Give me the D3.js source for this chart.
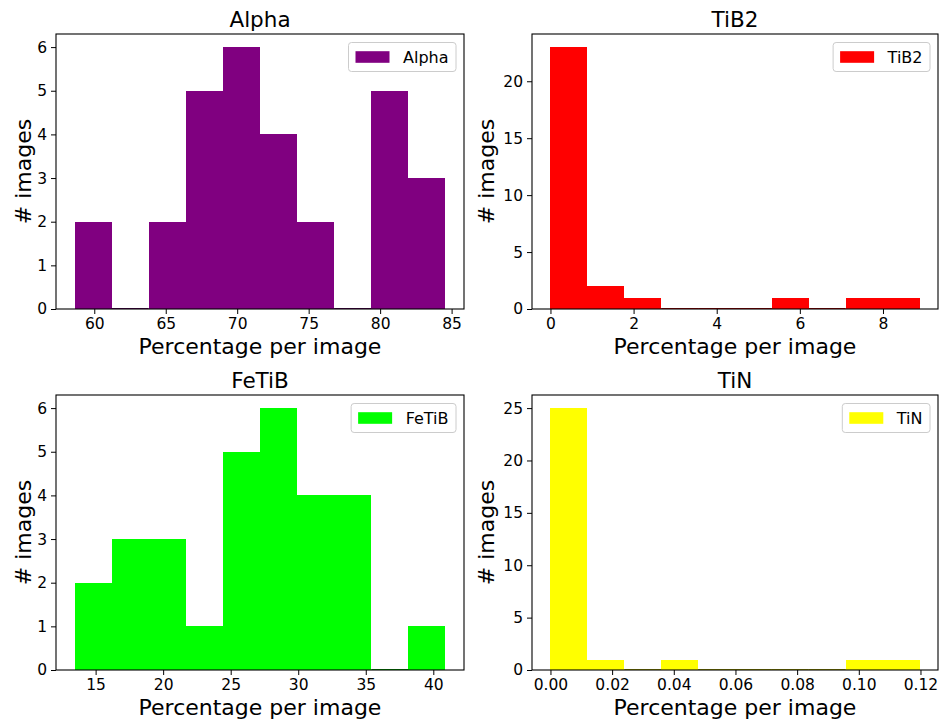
<!DOCTYPE html>
<html>
<head>
<meta charset="utf-8">
<script src="https://cdn.jsdelivr.net/npm/d3@7"></script>
<style>
  html, body { margin: 0; padding: 0; background: #fff; }
  svg { display: block; font-family: "DejaVu Sans", sans-serif; }
</style>
</head>
<body>
<svg id="chart" width="940" height="724"></svg>
<script>
// ---------------- data ----------------
const titles = ["Alpha", "TiB2", "FeTiB", "TiN"];
const colors = ["#800080", "#ff0000", "#00ff00", "#ffff00"];

const alphaEdges  = [58.62, 61.21, 63.81, 66.40, 69.00, 71.59, 74.19, 76.78, 79.38, 81.97, 84.57];
const alphaCounts = [2, 0, 2, 5, 6, 4, 2, 0, 5, 3];

const tib2Edges  = [0.00, 0.888, 1.776, 2.664, 3.552, 4.44, 5.328, 6.216, 7.104, 7.992, 8.88];
const tib2Counts = [23, 2, 1, 0, 0, 0, 1, 0, 1, 1];

const fetibEdges  = [13.44, 16.19, 18.93, 21.68, 24.42, 27.17, 29.92, 32.66, 35.41, 38.15, 40.90];
const fetibCounts = [2, 3, 3, 1, 5, 6, 4, 4, 0, 1];

const tinEdges  = [0.0, 0.01197, 0.02394, 0.03591, 0.04788, 0.05985, 0.07182, 0.08379, 0.09576, 0.10773, 0.1197];
const tinCounts = [25, 1, 0, 1, 0, 0, 0, 0, 1, 1];

const alphaXTicks = [60, 65, 70, 75, 80, 85];
const tib2XTicks  = [0, 2, 4, 6, 8];
const fetibXTicks = [15, 20, 25, 30, 35, 40];
const tinXTicks   = [0.00, 0.02, 0.04, 0.06, 0.08, 0.10, 0.12];

const alphaYTicks = [0, 1, 2, 3, 4, 5, 6];
const tib2YTicks  = [0, 5, 10, 15, 20];
const fetibYTicks = [0, 1, 2, 3, 4, 5, 6];
const tinYTicks   = [0, 5, 10, 15, 20, 25];

const xLabel = "Percentage per image";
const yLabel = "# images";

// ---------------- layout ----------------
const panels = [
  { edges: alphaEdges, counts: alphaCounts, xt: alphaXTicks, yt: alphaYTicks, fmt: d3.format("d"),   x0: 56,  x1: 464, y0: 34,  y1: 309 },
  { edges: tib2Edges,  counts: tib2Counts,  xt: tib2XTicks,  yt: tib2YTicks,  fmt: d3.format("d"),   x0: 532, x1: 938, y0: 34,  y1: 309 },
  { edges: fetibEdges, counts: fetibCounts, xt: fetibXTicks, yt: fetibYTicks, fmt: d3.format("d"),   x0: 56,  x1: 464, y0: 395, y1: 670 },
  { edges: tinEdges,   counts: tinCounts,   xt: tinXTicks,   yt: tinYTicks,   fmt: d3.format(".2f"), x0: 532, x1: 938, y0: 395, y1: 670 }
];

const svg = d3.select("#chart");

panels.forEach((p, i) => {
  const lo = p.edges[0], hi = p.edges[p.edges.length - 1];
  const pad = (hi - lo) * 0.05;
  const x = d3.scaleLinear().domain([lo - pad, hi + pad]).range([p.x0, p.x1]);
  const ymax = d3.max(p.counts) * 1.05;
  const y = d3.scaleLinear().domain([0, ymax]).range([p.y1, p.y0]);

  const g = svg.append("g");

  // bars
  const bins = p.counts.map((c, k) => ({ a: p.edges[k], b: p.edges[k + 1], c }));
  g.selectAll("rect.bar").data(bins.filter(d => d.c > 0)).enter().append("rect")
    .attr("class", "bar")
    .attr("x", d => x(d.a))
    .attr("width", d => x(d.b) - x(d.a))
    .attr("y", d => y(d.c))
    .attr("height", d => y(0) - y(d.c))
    .attr("fill", colors[i])
    .attr("shape-rendering", "crispEdges");

  // zero-height bars: faint baseline line
  g.selectAll("line.zero").data(bins.filter(d => d.c === 0)).enter().append("line")
    .attr("x1", d => x(d.a)).attr("x2", d => x(d.b))
    .attr("y1", y(0) - 0.5).attr("y2", y(0) - 0.5)
    .attr("stroke", d3.color(colors[i]).darker(1.2))
    .attr("stroke-width", 1);

  // axes
  const xAxis = d3.axisBottom(x).tickValues(p.xt).tickFormat(p.fmt).tickSize(5).tickPadding(4);
  const yAxis = d3.axisLeft(y).tickValues(p.yt).tickFormat(d3.format("d")).tickSize(5).tickPadding(4);

  const gx = g.append("g").attr("transform", `translate(0,${p.y1})`).call(xAxis);
  const gy = g.append("g").attr("transform", `translate(${p.x0},0)`).call(yAxis);
  [gx, gy].forEach(a => {
    a.select(".domain").remove();
    a.selectAll(".tick line").attr("stroke", "#000").attr("stroke-width", 1);
    a.selectAll(".tick text").attr("font-size", 15.5).attr("fill", "#000")
      .attr("font-family", "DejaVu Sans, sans-serif");
  });

  // frame (spines)
  g.append("rect")
    .attr("x", p.x0).attr("y", p.y0)
    .attr("width", p.x1 - p.x0).attr("height", p.y1 - p.y0)
    .attr("fill", "none").attr("stroke", "#000").attr("stroke-width", 1.1);

  // title
  g.append("text")
    .attr("x", (p.x0 + p.x1) / 2).attr("y", p.y0 - 7)
    .attr("text-anchor", "middle").attr("font-size", 21.5).attr("fill", "#000")
    .text(titles[i]);

  // x label
  g.append("text")
    .attr("x", (p.x0 + p.x1) / 2).attr("y", p.y1 + 45)
    .attr("text-anchor", "middle").attr("font-size", 22).attr("fill", "#000")
    .text(xLabel);

  // y label
  const ylx = p.x0 < 300 ? 23 : 486;
  g.append("text")
    .attr("transform", `translate(${ylx},${(p.y0 + p.y1) / 2}) rotate(-90)`)
    .attr("text-anchor", "middle").attr("dominant-baseline", "central")
    .attr("font-size", 22).attr("fill", "#000")
    .text(yLabel);

  // legend
  const lg = g.append("g");
  const box = lg.append("rect");
  const txt = lg.append("text").attr("font-size", 16).attr("fill", "#000").text(titles[i]);
  const tw = txt.node().getComputedTextLength();
  const lw = 7 + 34 + 13.5 + tw + 7.5;
  const lh = 29;
  const lx = p.x1 - 8 - lw;
  const ly = p.y0 + 8.5;
  box.attr("x", lx).attr("y", ly).attr("width", lw).attr("height", lh)
    .attr("rx", 3).attr("fill", "#fff").attr("fill-opacity", 0.8)
    .attr("stroke", "#cccccc").attr("stroke-width", 1);
  lg.append("rect")
    .attr("x", lx + 7).attr("y", ly + lh / 2 - 5.8)
    .attr("width", 34).attr("height", 11.6)
    .attr("fill", colors[i]);
  txt.attr("x", lx + 7 + 34 + 13.5).attr("y", ly + lh / 2 + 5.8);
});
</script>
</body>
</html>
